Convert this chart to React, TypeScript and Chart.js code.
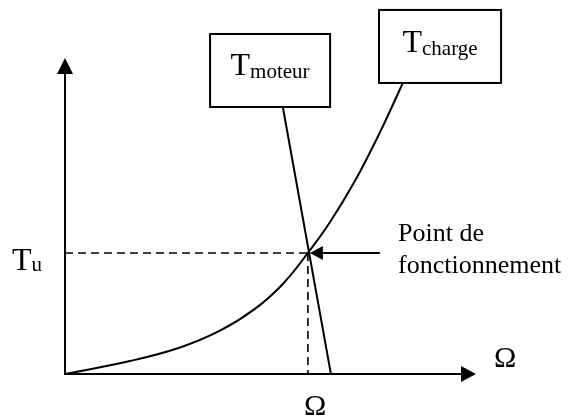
import React, { useEffect, useRef } from "react";
import { Chart, registerables } from "chart.js";

Chart.register(...registerables);

// ---- data (in chart units) ----
const loadX = [0, 1.58, 2.8, 3.77, 4.62, 5.3, 5.91, 6.45, 7.06, 7.66, 8.22];
const loadY = [0, 0.41, 0.84, 1.37, 2.06, 2.85, 3.83, 4.81, 6.12, 7.64, 9.21];
const motorX = [5.3, 6.47];
const motorY = [8.45, 0];
const operatingX = 5.91;
const operatingY = 3.83;
const axisMax = 10;

// ---- texts ----
const motorLabel = ["T", "moteur"];
const loadLabel = ["T", "charge"];
const torqueLabel = ["T", "u"];
const speedLabel = "Ω";
const pointLabel = ["Point de", "fonctionnement"];

const FONT = "'Liberation Serif', 'Times New Roman', serif";

const pts = (xs: number[], ys: number[]) => xs.map((x, i) => ({ x, y: ys[i] }));

const drawPlugin = {
  id: "diagram",
  afterDatasetsDraw(chart: any) {
    const ctx: CanvasRenderingContext2D = chart.ctx;
    const xs = chart.scales.x;
    const ys = chart.scales.y;
    const px = (v: number) => xs.getPixelForValue(v);
    const py = (v: number) => ys.getPixelForValue(v);
    ctx.save();
    ctx.strokeStyle = "#000";
    ctx.fillStyle = "#000";
    ctx.lineWidth = 2;
    ctx.lineCap = "butt";

    const x0 = px(0);
    const y0 = py(0);
    const xEnd = px(axisMax);
    const yEnd = py(axisMax);

    // axes
    ctx.beginPath();
    ctx.moveTo(x0, y0 + 1);
    ctx.lineTo(x0, yEnd + 12);
    ctx.moveTo(x0 - 1, y0);
    ctx.lineTo(xEnd - 12, y0);
    ctx.stroke();
    // arrow heads
    ctx.beginPath();
    ctx.moveTo(x0, yEnd);
    ctx.lineTo(x0 - 8, yEnd + 16);
    ctx.lineTo(x0 + 8, yEnd + 16);
    ctx.closePath();
    ctx.fill();
    ctx.beginPath();
    ctx.moveTo(xEnd, y0);
    ctx.lineTo(xEnd - 15, y0 - 8);
    ctx.lineTo(xEnd - 15, y0 + 8);
    ctx.closePath();
    ctx.fill();

    // pointer arrow to operating point
    const oy = py(operatingY);
    const tipX = px(operatingX) + 2;
    ctx.beginPath();
    ctx.moveTo(px(7.66), oy);
    ctx.lineTo(tipX + 10, oy);
    ctx.stroke();
    ctx.beginPath();
    ctx.moveTo(tipX, oy);
    ctx.lineTo(tipX + 13, oy - 7);
    ctx.lineTo(tipX + 13, oy + 7);
    ctx.closePath();
    ctx.fill();

    // boxes with labels
    const box = (x1: number, x2: number, y1: number, y2: number, label: string[], base: number) => {
      const l = px(x1), r = px(x2), t = py(y1), b = py(y2);
      ctx.fillStyle = "#fff";
      ctx.fillRect(l, t, r - l, b - t);
      ctx.fillStyle = "#000";
      ctx.lineWidth = 2;
      ctx.strokeRect(l, t, r - l, b - t);
      ctx.font = `32px ${FONT}`;
      const w1 = ctx.measureText(label[0]).width;
      ctx.font = `21px ${FONT}`;
      const w2 = ctx.measureText(label[1]).width;
      const start = (l + r) / 2 - (w1 + w2) / 2;
      ctx.textBaseline = "alphabetic";
      ctx.textAlign = "left";
      ctx.font = `32px ${FONT}`;
      ctx.fillText(label[0], start, t + base);
      ctx.font = `21px ${FONT}`;
      ctx.fillText(label[1], start + w1, t + base + 3);
    };
    box(3.53, 6.45, 10.76, 8.45, motorLabel, 41);
    box(7.64, 10.61, 11.52, 9.21, loadLabel, 42);

    // Tu label
    ctx.textAlign = "left";
    ctx.textBaseline = "alphabetic";
    ctx.font = `32px ${FONT}`;
    const tw = ctx.measureText(torqueLabel[0]).width;
    ctx.fillText(torqueLabel[0], 12, oy + 17);
    ctx.font = `21px ${FONT}`;
    ctx.fillText(torqueLabel[1], 12 + tw, oy + 18);

    // Omega labels
    ctx.font = `30px ${FONT}`;
    ctx.fillText(speedLabel, xEnd + 18, y0 - 7);
    ctx.fillText(speedLabel, px(operatingX) - 4, y0 + 41);

    // Point de fonctionnement
    ctx.font = `26px ${FONT}`;
    ctx.fillText(pointLabel[0], 398, oy - 12);
    ctx.fillText(pointLabel[1], 398, oy + 20);

    ctx.restore();
  },
};

export default function App() {
  const ref = useRef<HTMLCanvasElement | null>(null);
  useEffect(() => {
    if (!ref.current) return;
    const chart = new Chart(ref.current, {
      type: "scatter",
      data: {
        datasets: [
          {
            label: "Tcharge",
            data: pts(loadX, loadY),
            showLine: true,
            borderColor: "#000",
            borderWidth: 2,
            pointRadius: 0,
            tension: 0.4,
          },
          {
            label: "Tmoteur",
            data: pts(motorX, motorY),
            showLine: true,
            borderColor: "#000",
            borderWidth: 2,
            pointRadius: 0,
          },
          {
            label: "Tu",
            data: pts([0, operatingX], [operatingY, operatingY]),
            showLine: true,
            borderColor: "#000",
            borderWidth: 1.6,
            borderDash: [8, 5],
            pointRadius: 0,
          },
          {
            label: "Omega",
            data: pts([operatingX, operatingX], [operatingY, 0]),
            showLine: true,
            borderColor: "#000",
            borderWidth: 1.6,
            borderDash: [8, 5],
            pointRadius: 0,
          },
        ],
      },
      options: {
        animation: false,
        responsive: false,
        events: [],
        layout: { padding: { left: 65, right: 93, top: 58, bottom: 42 } },
        plugins: { legend: { display: false }, tooltip: { enabled: false }, title: { display: false } },
        scales: {
          x: { type: "linear", min: 0, max: axisMax, display: false },
          y: { type: "linear", min: 0, max: axisMax, display: false },
        },
      },
      plugins: [drawPlugin],
    });
    return () => chart.destroy();
  }, []);
  return (
    <div style={{ position: "fixed", left: 0, top: 0, width: 569, height: 416, background: "#fff" }}>
      <canvas ref={ref} width={569} height={416} style={{ display: "block" }} />
    </div>
  );
}
